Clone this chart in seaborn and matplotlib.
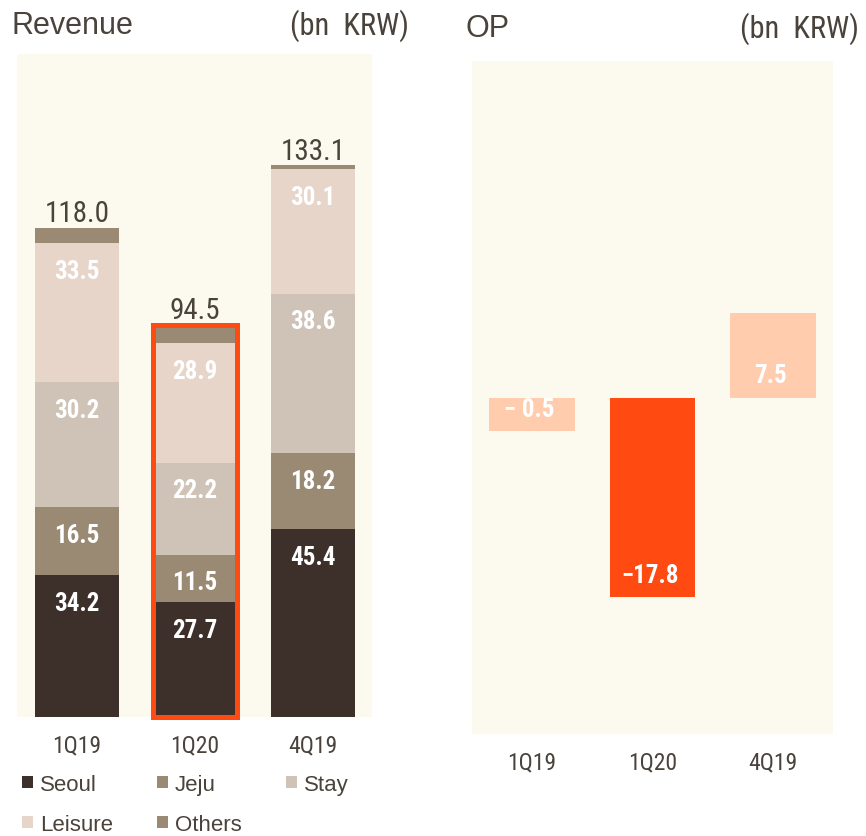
import matplotlib
matplotlib.use("Agg")
import matplotlib.pyplot as plt
from matplotlib.patches import Patch, Rectangle
import numpy as np
import pandas as pd
import seaborn as sns

# %%
# data
quarters = ["1Q19", "1Q20", "4Q19"]
segments = ["Seoul", "Jeju", "Stay", "Leisure", "Others"]
seoul = [34.2, 27.7, 45.4]
jeju = [16.5, 11.5, 18.2]
stay = [30.2, 22.2, 38.6]
leisure = [33.5, 28.9, 30.1]
others = [3.6, 4.2, 0.8]
totals = [118.0, 94.5, 133.1]

op = [-0.5, -17.8, 7.5]
op_labels = ["− 0.5", "−17.8", "7.5"]

colours = {
    "Seoul": "#3d302b",
    "Jeju": "#9a8a74",
    "Stay": "#cfc3b7",
    "Leisure": "#e7d5ca",
    "Others": "#9a8a74",
}
bg = "#fcf9ef"
text_col = "#4a433c"
hot = "#ff4a12"
soft = "#ffcdae"

# %%
sns.set_theme(style="white")
narrow = ["Liberation Sans Narrow", "Roboto Condensed", "DejaVu Sans Condensed",
          "Liberation Sans", "DejaVu Sans"]
plain = ["Liberation Sans", "DejaVu Sans"]
plt.rcParams["font.family"] = plain

df = pd.DataFrame({"Quarter": quarters, "Seoul": seoul, "Jeju": jeju,
                   "Stay": stay, "Leisure": leisure, "Others": others})

fig = plt.figure(figsize=(8.66, 8.37), dpi=100)
ax1 = fig.add_axes([17/866, 1-718/837, 355/866, 663/837])
ax2 = fig.add_axes([472/866, 1-735/837, 361/866, 673/837])
width = 0.71

# %%
# Revenue: stacked bars drawn as overlapping cumulative sums
for i in range(len(segments), 0, -1):
    cum = df[segments[:i]].sum(axis=1)
    sns.barplot(x=df["Quarter"], y=cum, order=quarters, color=colours[segments[i-1]],
                saturation=1, width=width, linewidth=0, ax=ax1)

for j, q in enumerate(quarters):
    base = 0
    for s in segments[:-1]:
        v = df.loc[j, s]
        top = base + v
        ax1.annotate(f"{v:.1f}", xy=(j, top), xytext=(0, -20), textcoords="offset points",
                     ha="center", va="center", color="white", fontsize=18,
                     fontweight="bold", family=narrow)
        base = top
    ax1.annotate(f"{totals[j]:.1f}", xy=(j, totals[j]), xytext=(0, 5),
                 textcoords="offset points", ha="center", va="baseline",
                 color=text_col, fontsize=21, family=narrow)

# highlight current quarter
k = quarters.index("1Q20")
ax1.add_patch(Rectangle((k - width/2, 0), width, totals[k], fill=False,
                        edgecolor=hot, linewidth=3.6, clip_on=False, zorder=5))

ax1.set_xlim(-0.51, 2.5)
ax1.set_ylim(0, 160)

# %%
# OP: tiny values get a minimum visible height so the label fits
min_h = 3.0
op_show = [np.sign(v) * max(abs(v), min_h) for v in op]
op_df = pd.DataFrame({"Quarter": quarters, "OP": op_show})
sns.barplot(data=op_df, x="Quarter", y="OP", hue="Quarter", order=quarters,
            palette=[soft, hot, soft], saturation=1, width=width, linewidth=0,
            legend=False, ax=ax2)
for j, v in enumerate(op_show):
    ax2.annotate(op_labels[j], xy=(j, min(0, v)), xytext=(-2, 16),
                 textcoords="offset points", ha="center", va="center",
                 color="white", fontsize=18, fontweight="bold", family=narrow)
ax2.set_xlim(-0.5, 2.5)
ax2.set_ylim(-30, 30)

for ax in (ax1, ax2):
    ax.set_facecolor(bg)
    sns.despine(ax=ax, left=True, bottom=True)
    ax.set_xlabel("")
    ax.set_ylabel("")
    ax.set_yticks([])
    ax.tick_params(axis="x", length=0, labelsize=17, labelcolor=text_col)
    for t in ax.get_xticklabels():
        t.set_family(narrow)
ax1.tick_params(axis="x", pad=12)
ax2.tick_params(axis="x", pad=12)

# %%
# titles
fig.text(12/866, 1-26/837, "Revenue", fontsize=22, color=text_col, va="center", family=plain)
fig.text(409/866, 1-26/837, "(bn  KRW)", fontsize=22, color=text_col, va="center",
         ha="right", family=narrow)
fig.text(465/866, 1-29/837, "OP", fontsize=22, color=text_col, va="center", family=plain)
fig.text(859/866, 1-29/837, "(bn  KRW)", fontsize=22, color=text_col, va="center",
         ha="right", family=narrow)

# legend, ordered so rows read Seoul Jeju Stay / Leisure Others
leg_order = ["Seoul", "Leisure", "Jeju", "Others", "Stay"]
handles = [Patch(facecolor=colours[s], edgecolor="none", label=s) for s in leg_order]
fig.legend(handles=handles, loc="upper left", bbox_to_anchor=(22/866, 1-775/837),
           ncol=3, frameon=False, borderpad=0, borderaxespad=0,
           handlelength=0.5, handleheight=0.5, handletextpad=0.3,
           columnspacing=2.0, labelspacing=0.85,
           prop={"family": plain, "size": 16}, labelcolor=text_col)

fig.savefig("out.png", dpi=100, facecolor="white")
